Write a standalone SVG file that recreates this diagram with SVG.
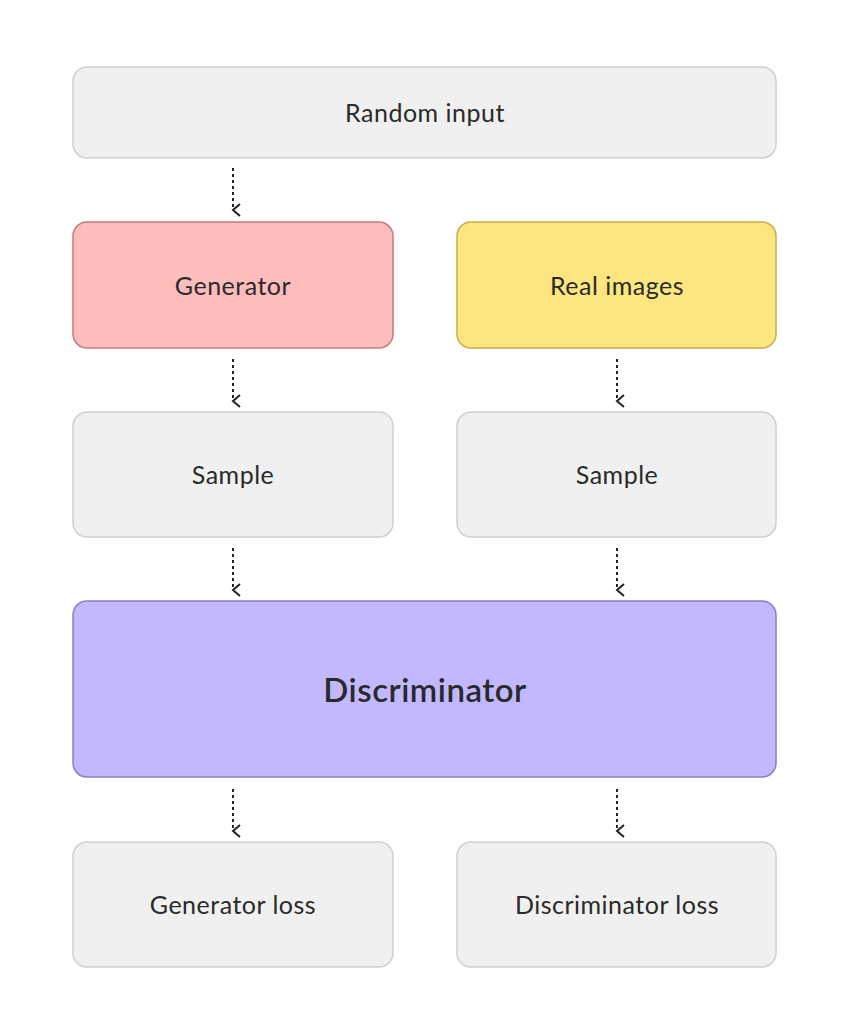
<svg xmlns="http://www.w3.org/2000/svg" width="851" height="1035" viewBox="0 0 851 1035">
<defs>
<marker id="ah" markerWidth="14" markerHeight="10" refX="7" refY="8" orient="auto" markerUnits="userSpaceOnUse" viewBox="0 0 14 10">
<path d="M1,1 L7,8 L13,1" fill="none" stroke="#222" stroke-width="2"/>
</marker>
</defs>
<style>
rect{stroke-width:1.5}
.g{fill:#f0f0f0;stroke:#d0d0d0}
text{font-family:Lato,"Noto Sans",sans-serif;font-size:25px;fill:#2a2a2a;text-anchor:middle;dominant-baseline:central;letter-spacing:0.5px}
.c line{stroke:#222;stroke-width:2;stroke-dasharray:3 3;marker-end:url(#ah)}
</style>
<rect width="851" height="1035" fill="#fff"/>
<g id="random"><rect class="g" x="73" y="67" width="703" height="91" rx="14"/><text x="425" y="112">Random input</text></g>
<g id="generator"><rect x="73" y="222" width="320" height="126" rx="14" fill="#ffbcbd" stroke="#c57a7c"/><text x="233" y="285">Generator</text></g>
<g id="real"><rect x="457" y="222" width="319" height="126" rx="14" fill="#fde680" stroke="#c9ae4a"/><text x="617" y="285">Real images</text></g>
<g id="sample1"><rect class="g" x="73" y="412" width="320" height="125" rx="14"/><text x="233" y="474">Sample</text></g>
<g id="sample2"><rect class="g" x="457" y="412" width="319" height="125" rx="14"/><text x="617" y="474">Sample</text></g>
<g id="disc"><rect x="73" y="601" width="703" height="176" rx="14" fill="#c2b8ff" stroke="#8a7ec8"/><text x="425" y="689" style="font-size:33px;font-weight:600">Discriminator</text></g>
<g id="gloss"><rect class="g" x="73" y="842" width="320" height="125" rx="14"/><text x="233" y="904">Generator loss</text></g>
<g id="dloss"><rect class="g" x="457" y="842" width="319" height="125" rx="14"/><text x="617" y="904">Discriminator loss</text></g>
<g class="c" id="connectors">
<line x1="233" y1="168" x2="233" y2="210"/>
<line x1="233" y1="359" x2="233" y2="401"/>
<line x1="617" y1="359" x2="617" y2="401"/>
<line x1="233" y1="548" x2="233" y2="590"/>
<line x1="617" y1="548" x2="617" y2="590"/>
<line x1="233" y1="789" x2="233" y2="831"/>
<line x1="617" y1="789" x2="617" y2="831"/>
</g>
</svg>
